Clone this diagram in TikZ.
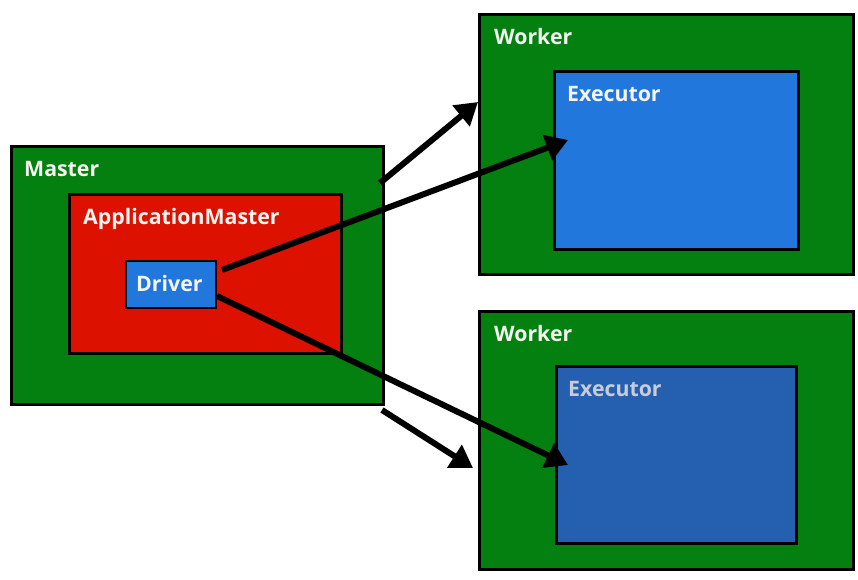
\documentclass[tikz,border=0pt]{standalone}
\usepackage{fontspec}
\setmainfont{Open Sans}
\usetikzlibrary{arrows.meta}
\definecolor{gr}{HTML}{03800F}
\definecolor{rd}{HTML}{DD1100}
\definecolor{bl}{HTML}{2277DD}
\definecolor{bl2}{HTML}{2560B0}
\definecolor{tx}{HTML}{F4F4F0}
\definecolor{tx2}{HTML}{C8CCD8}
\begin{document}
\begin{tikzpicture}[x=1pt,y=-1pt,
  box/.style={draw=black,line width=2.8pt,anchor=north west,inner sep=0pt,minimum width=#1},
  lbl/.style={anchor=base west,inner sep=0pt,text=tx,font=\fontsize{21.3}{25}\selectfont\bfseries},
  conn/.style={line width=6pt,-{Triangle[length=22pt,width=26pt]}}]
\useasboundingbox (0,0) rectangle (858,580);
% Master
\node[box=372pt,fill=gr,minimum height=258pt] (master) at (10,145) {};
\node[lbl] (masterl) at (24,176) {Master};
\node[box=272pt,fill=rd,minimum height=159pt] (am) at (68,193) {};
\node[lbl] (aml) at (83,224) {ApplicationMaster};
\node[box=90pt,fill=bl,minimum height=47pt,line width=2.4pt] (drv) at (125,260) {};
\node[lbl] (drvl) at (136,291) {Driver};
% Worker top
\node[box=374pt,fill=gr,minimum height=260pt] (w1) at (478,13) {};
\node[lbl] (w1l) at (494,45) {Worker};
\node[box=244pt,fill=bl,minimum height=178pt] (e1) at (553,70) {};
\node[lbl] (e1l) at (567,102) {Executor};
% Worker bottom
\node[box=374pt,fill=gr,minimum height=258pt] (w2) at (478,310) {};
\node[lbl] (w2l) at (494,341) {Worker};
\node[box=240pt,fill=bl2,minimum height=177pt] (e2) at (555,365) {};
\node[lbl,text=tx2] (e2l) at (568,396) {Executor};
% connector ends
\coordinate (a1s) at (380,183);
\coordinate (a1e) at (478,102);
\coordinate (a2s) at (222,270);
\coordinate (a2e) at (568,140);
\coordinate (a3s) at (217,296);
\coordinate (a3e) at (568,465);
\coordinate (a4s) at (382,410);
\coordinate (a4e) at (473,468);
\draw[conn] (a1s) -- (a1e);
\draw[conn] (a2s) -- (a2e);
\draw[conn] (a3s) -- (a3e);
\draw[conn] (a4s) -- (a4e);
\end{tikzpicture}
\end{document}
